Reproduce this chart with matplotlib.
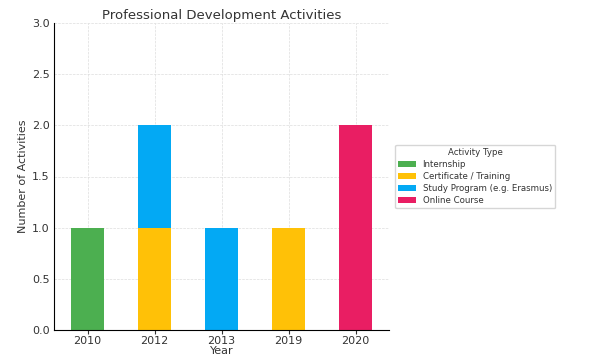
import matplotlib
matplotlib.use("Agg")
import matplotlib.pyplot as plt
import numpy as np

# Data
years = ["2010", "2012", "2013", "2019", "2020"]
activity_types = ["Internship", "Certificate / Training",
                  "Study Program (e.g. Erasmus)", "Online Course"]
internship = [1, 0, 0, 0, 0]
certificate = [0, 1, 0, 1, 0]
study_program = [0, 1, 1, 0, 0]
online_course = [0, 0, 0, 0, 2]
colors = ["#4CAF50", "#FFC107", "#03A9F4", "#E91E63"]

plt.rcParams["text.color"] = "#333333"
plt.rcParams["axes.labelcolor"] = "#333333"
plt.rcParams["xtick.color"] = "#333333"
plt.rcParams["ytick.color"] = "#333333"

fig = plt.figure(figsize=(5.92, 3.58), dpi=100)
ax = fig.add_axes([54 / 592, 28 / 358, 335 / 592, 307 / 358])

x = np.arange(len(years))
bottom = np.zeros(len(years))
for name, vals, c in zip(activity_types,
                         [internship, certificate, study_program, online_course],
                         colors):
    ax.bar(x, vals, width=0.5, bottom=bottom, color=c, label=name, zorder=2)
    bottom += np.array(vals)

ax.set_xticks(x)
ax.set_xticklabels(years, fontsize=8)
ax.set_xlim(-0.5, 4.5)
ax.set_ylim(0, 3)
ax.set_yticks(np.arange(0, 3.01, 0.5))
ax.tick_params(axis="y", labelsize=8, length=0, pad=3)
ax.tick_params(axis="x", labelsize=8, length=3, pad=1)
ax.set_title("Professional Development Activities", fontsize=9.5, color="#333333", pad=3)
ax.set_xlabel("Year", fontsize=8, labelpad=0)
ax.set_ylabel("Number of Activities", fontsize=8, labelpad=3)
ax.grid(True, linestyle="--", linewidth=0.5, color="#dddddd", zorder=0)
ax.spines["top"].set_visible(False)
ax.spines["right"].set_visible(False)

leg = ax.legend(title="Activity Type", loc="center left", bbox_to_anchor=(1.005, 0.5),
                fontsize=6.2, title_fontsize=6.2, handlelength=2.0, handleheight=0.55,
                labelspacing=0.35, frameon=True)
leg.get_frame().set_edgecolor("#cccccc")

fig.savefig("out.png", dpi=100)
